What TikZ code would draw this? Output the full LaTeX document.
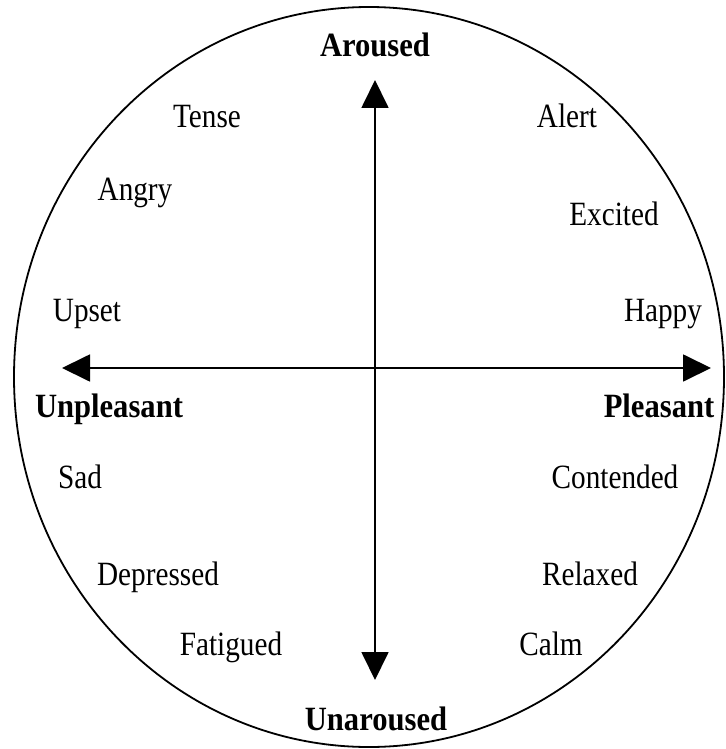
\documentclass[tikz,border=0pt]{standalone}
\usepackage{fontspec}
\setmainfont{Liberation Serif}
\usepackage{tikz}
\usetikzlibrary{arrows.meta}
\tikzset{
  emotion/.style={font=\fontsize{34}{38}\selectfont,inner sep=0pt,anchor=base,xscale=0.86},
  axislabel/.style={font=\fontsize{34}{38}\selectfont\bfseries,inner sep=0pt,anchor=base,xscale=0.9},
  axisline/.style={line width=1.8pt,{Triangle[length=28pt,width=27pt]}-{Triangle[length=28pt,width=27pt]}}
}

\begin{document}
\begin{tikzpicture}[x=1pt,y=-1pt]
    \useasboundingbox (0,0) rectangle (725,749);
    \draw[line width=1.8pt] (369,377) ellipse [x radius=355,y radius=370];
    % axes
    \coordinate (top) at (375,80);
    \coordinate (bottom) at (375,680);
    \coordinate (left) at (62,368);
    \coordinate (right) at (711,368);
    \draw[axisline] (bottom) -- (top);
    \draw[axisline] (left) -- (right);
    \node[axislabel] (aroused) at (375,57) {Aroused};
    \node[axislabel] (unaroused) at (376,730) {Unaroused};
    \node[axislabel] (unpleasant) at (109,417) {Unpleasant};
    \node[axislabel] (pleasant) at (659,417) {Pleasant};
    % emotions
    \node[emotion] (tense) at (207,128) {Tense};
    \node[emotion] (alert) at (567,128) {Alert};
    \node[emotion] (angry) at (135,200) {Angry};
    \node[emotion] (excited) at (614,225) {Excited};
    \node[emotion] (upset) at (87,321) {Upset};
    \node[emotion] (happy) at (663,321) {Happy};
    \node[emotion] (sad) at (80,488) {Sad};
    \node[emotion] (contended) at (615,488) {Contended};
    \node[emotion] (depressed) at (158,585) {Depressed};
    \node[emotion] (relaxed) at (590,585) {Relaxed};
    \node[emotion] (fatigued) at (231,655) {Fatigued};
    \node[emotion] (calm) at (551,655) {Calm};
\end{tikzpicture}
\end{document}
